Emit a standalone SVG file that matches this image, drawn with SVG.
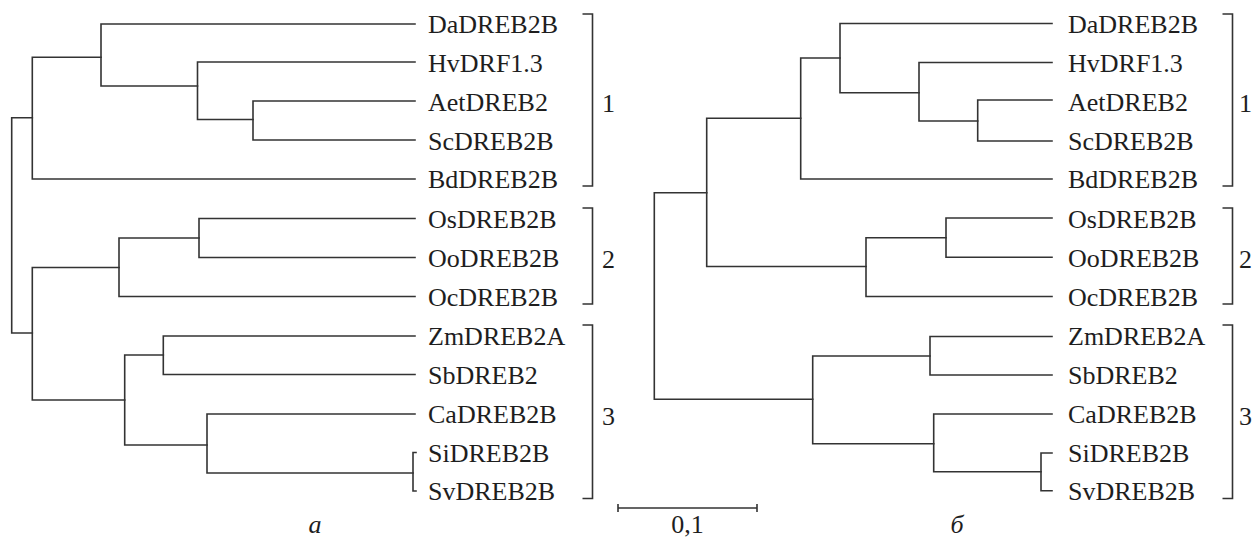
<svg xmlns="http://www.w3.org/2000/svg" width="1254" height="539" viewBox="0 0 1254 539">
  <style>
    .br { fill: none; stroke: #333; stroke-width: 1.6; stroke-linecap: square; }
    .bk { fill: none; stroke: #333; stroke-width: 1.6; }
    .lbl { font-family: "Liberation Serif", "Times New Roman", serif; font-size: 26px; fill: #1e1e1e; }
    .cap { font-family: "Liberation Serif", "Times New Roman", serif; font-size: 26px; font-style: italic; fill: #1e1e1e; }
  </style>
  <rect width="1254" height="539" fill="#fff"/>

  <!-- Tree a: branches -->
  <g id="connectors-a" class="br">
    <!-- root -->
    <path d="M11.7,117.7 V333 M11.7,117.7 H32.3 M11.7,333 H32.3"/>
    <!-- clade 1 -->
    <path d="M32.3,57.3 V179 M32.3,57.3 H101 M32.3,179 H415"/>
    <path d="M101,24 V86 M101,24 H415 M101,86 H197.5"/>
    <path d="M197.5,62 V119.5 M197.5,62 H415 M197.5,119.5 H253"/>
    <path d="M253,101 V140 M253,101 H415 M253,140 H415"/>
    <!-- clades 2 + 3 -->
    <path d="M32.3,267.5 V400 M32.3,267.5 H119 M32.3,400 H124.7"/>
    <path d="M119,238 V296.5 M119,238 H199 M119,296.5 H415"/>
    <path d="M199,218.5 V257.5 M199,218.5 H415 M199,257.5 H415"/>
    <path d="M124.7,355 V445 M124.7,355 H163.3 M124.7,445 H207"/>
    <path d="M163.3,336 V374.5 M163.3,336 H415 M163.3,374.5 H415"/>
    <path d="M207,414 V473 M207,414 H415 M207,473 H413"/>
    <path d="M413,452.5 V491 M413,452.5 H416 M413,491 H416"/>
  </g>

  <!-- Tree a: leaf labels -->
  <g id="leaves-a" class="lbl">
    <text id="a-DaDREB2B" x="428" y="33">DaDREB2B</text>
    <text id="a-HvDRF1.3" x="428" y="72">HvDRF1.3</text>
    <text id="a-AetDREB2" x="428" y="110.5">AetDREB2</text>
    <text id="a-ScDREB2B" x="428" y="149.5">ScDREB2B</text>
    <text id="a-BdDREB2B" x="428" y="188">BdDREB2B</text>
    <text id="a-OsDREB2B" x="428" y="227.5">OsDREB2B</text>
    <text id="a-OoDREB2B" x="428" y="266.5">OoDREB2B</text>
    <text id="a-OcDREB2B" x="428" y="305.5">OcDREB2B</text>
    <text id="a-ZmDREB2A" x="428" y="345">ZmDREB2A</text>
    <text id="a-SbDREB2" x="428" y="383.5">SbDREB2</text>
    <text id="a-CaDREB2B" x="428" y="423">CaDREB2B</text>
    <text id="a-SiDREB2B" x="428" y="461.5">SiDREB2B</text>
    <text id="a-SvDREB2B" x="428" y="500">SvDREB2B</text>
  </g>

  <!-- Tree a: group brackets -->
  <g id="groups-a">
    <path class="bk" d="M582.5,14 H592.5 V186 H582.5"/>
    <path class="bk" d="M582.5,208 H592.5 V304 H582.5"/>
    <path class="bk" d="M582.5,325 H592.5 V498.5 H582.5"/>
    <text class="lbl" x="602" y="112">1</text>
    <text class="lbl" x="602" y="268">2</text>
    <text class="lbl" x="602" y="425">3</text>
  </g>

  <!-- Tree б: branches -->
  <g id="connectors-b" class="br">
    <!-- root -->
    <path d="M654.3,192.7 V399.3 M654.3,192.7 H706.7 M654.3,399.3 H812.7"/>
    <!-- clades 1 + 2 -->
    <path d="M706.7,118.3 V266.5 M706.7,118.3 H800.7 M706.7,266.5 H866"/>
    <path d="M800.7,58 V179 M800.7,58 H840 M800.7,179 H1052"/>
    <path d="M840,23.5 V92.7 M840,23.5 H1052 M840,92.7 H919"/>
    <path d="M919,62.5 V121 M919,62.5 H1052 M919,121 H977.7"/>
    <path d="M977.7,100 V141 M977.7,100 H1052 M977.7,141 H1052"/>
    <path d="M866,237.7 V296.5 M866,237.7 H946 M866,296.5 H1052"/>
    <path d="M946,218 V257.3 M946,218 H1052 M946,257.3 H1052"/>
    <!-- clade 3 -->
    <path d="M812.7,356 V443.7 M812.7,356 H930 M812.7,443.7 H933.7"/>
    <path d="M930,336.5 V375 M930,336.5 H1052 M930,375 H1052"/>
    <path d="M933.7,414 V471.7 M933.7,414 H1052 M933.7,471.7 H1041"/>
    <path d="M1041,453 V490.7 M1041,453 H1052 M1041,490.7 H1052"/>
  </g>

  <!-- Tree б: leaf labels -->
  <g id="leaves-b" class="lbl">
    <text id="b-DaDREB2B" x="1068" y="33">DaDREB2B</text>
    <text id="b-HvDRF1.3" x="1068" y="72">HvDRF1.3</text>
    <text id="b-AetDREB2" x="1068" y="110.5">AetDREB2</text>
    <text id="b-ScDREB2B" x="1068" y="149.5">ScDREB2B</text>
    <text id="b-BdDREB2B" x="1068" y="188">BdDREB2B</text>
    <text id="b-OsDREB2B" x="1068" y="227.5">OsDREB2B</text>
    <text id="b-OoDREB2B" x="1068" y="266.5">OoDREB2B</text>
    <text id="b-OcDREB2B" x="1068" y="305.5">OcDREB2B</text>
    <text id="b-ZmDREB2A" x="1068" y="345">ZmDREB2A</text>
    <text id="b-SbDREB2" x="1068" y="383.5">SbDREB2</text>
    <text id="b-CaDREB2B" x="1068" y="423">CaDREB2B</text>
    <text id="b-SiDREB2B" x="1068" y="461.5">SiDREB2B</text>
    <text id="b-SvDREB2B" x="1068" y="500">SvDREB2B</text>
  </g>

  <!-- Tree б: group brackets -->
  <g id="groups-b">
    <path class="bk" d="M1222.5,14 H1232.5 V186 H1222.5"/>
    <path class="bk" d="M1222.5,208 H1232.5 V304 H1222.5"/>
    <path class="bk" d="M1222.5,325 H1232.5 V498.5 H1222.5"/>
    <text class="lbl" x="1239" y="112">1</text>
    <text class="lbl" x="1239" y="268">2</text>
    <text class="lbl" x="1239" y="425">3</text>
  </g>

  <!-- Scale bar -->
  <g id="scale-bar">
    <path class="bk" d="M618,508 H757 M618,504 V512 M757,504 V512"/>
    <text class="lbl" x="687.5" y="533" text-anchor="middle">0,1</text>
  </g>

  <!-- Panel captions -->
  <text id="caption-a" class="cap" x="315" y="533" text-anchor="middle">а</text>
  <text id="caption-b" class="cap" x="957" y="533" text-anchor="middle">б</text>
</svg>
